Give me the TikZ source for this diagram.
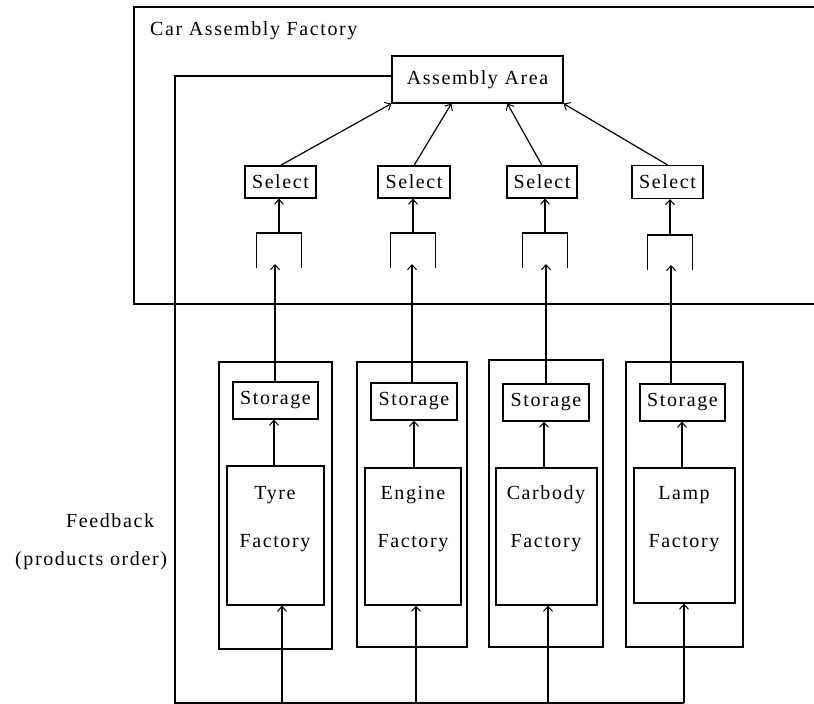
\documentclass[tikz,border=0pt]{standalone}
\usepackage{fontspec}
\setmainfont{Liberation Serif}[LetterSpace=8]
\usetikzlibrary{arrows.meta,calc}
\begin{document}
\begin{tikzpicture}[x=1pt,y=-1pt,
  every node/.style={font=\fontsize{20}{24}\selectfont},
  box/.style={draw,line width=1.2pt,inner sep=0pt,rectangle},
  ln/.style={line width=1.2pt},
  arr/.style={line width=1.2pt,-{Straight Barb[length=5pt,width=9pt,line width=1pt]}},
  txt/.style={inner sep=0pt,anchor=base}]
\useasboundingbox (0,0) rectangle (814,704);
% outer factory frame
\draw[ln] (814,7) -- (134,7) -- (134,304) -- (814,304);
\node[txt,anchor=base west] (title) at (150,35) {Car Assembly Factory};
% assembly area
\node[box,minimum width=171pt,minimum height=47pt] (aa) at (477.5,79.5) {Assembly Area};
% select boxes
\node[box,minimum width=71pt,minimum height=32pt] (sel1) at (280.5,182) {Select};
\node[box,minimum width=72pt,minimum height=32pt] (sel2) at (414,182) {Select};
\node[box,minimum width=70pt,minimum height=32pt] (sel3) at (542,182) {Select};
\node[box,minimum width=71pt,minimum height=33pt] (sel4) at (667.5,182) {Select};
% arrows select -> assembly area
\draw[arr] (sel1.north) -- (aa.south west);
\draw[arr] (sel2.north) -- ($(aa.south west)+(60,0)$);
\draw[arr] (sel3.north) -- ($(aa.south west)+(116,0)$);
\draw[arr] (sel4.north) -- (aa.south east);
% brackets
\coordinate (k1) at (279,233);
\coordinate (k2) at (413,233);
\coordinate (k3) at (545,233);
\coordinate (k4) at (670,235);
\foreach \k in {1,2,3,4}{
  \draw[ln] ($(k\k)+(-22.5,35)$) -- ($(k\k)+(-22.5,0)$) -- ($(k\k)+(22.5,0)$) -- ($(k\k)+(22.5,35)$);
  \draw[arr] (k\k) -- (k\k |- sel\k.south);
}
% column boxes
\node[box,minimum width=113pt,minimum height=287pt] (c1) at (275.5,505.5) {};
\node[box,minimum width=110pt,minimum height=285pt] (c2) at (412,504.5) {};
\node[box,minimum width=114pt,minimum height=287pt] (c3) at (546,503.5) {};
\node[box,minimum width=117pt,minimum height=285pt] (c4) at (684.5,504.5) {};
% storage
\node[box,minimum width=85pt,minimum height=37pt] (s1) at (275.5,400.5) {Storage};
\node[box,minimum width=86pt,minimum height=37pt] (s2) at (414,401.5) {Storage};
\node[box,minimum width=86pt,minimum height=37pt] (s3) at (546,402.5) {Storage};
\node[box,minimum width=85pt,minimum height=37pt] (s4) at (682.5,402.5) {Storage};
% factories
\node[box,minimum width=97pt,minimum height=139pt] (f1) at (275.5,535.5) {};
\node[box,minimum width=96pt,minimum height=137pt] (f2) at (413,536.5) {};
\node[box,minimum width=101pt,minimum height=137pt] (f3) at (546.5,536.5) {};
\node[box,minimum width=101pt,minimum height=135pt] (f4) at (684.5,535.5) {};
\node[txt] (f1a) at (275,499) {Tyre};
\node[txt] (f1b) at (275,547) {Factory};
\node[txt] (f2a) at (413,499) {Engine};
\node[txt] (f2b) at (413,547) {Factory};
\node[txt] (f3a) at (546,499) {Carbody};
\node[txt] (f3b) at (546,547) {Factory};
\node[txt] (f4a) at (684,499) {Lamp};
\node[txt] (f4b) at (684,547) {Factory};
% storage -> bracket, factory -> storage
\coordinate (in1) at (275,264);
\coordinate (in2) at (412,264);
\coordinate (in3) at (546,264);
\coordinate (in4) at (671,265);
\coordinate (u1) at (274,0);
\coordinate (u2) at (414,0);
\coordinate (u3) at (544,0);
\coordinate (u4) at (682,0);
\foreach \k in {1,2,3,4}{
  \draw[arr] (in\k |- s\k.north) -- (in\k);
  \draw[arr] (u\k |- f\k.north) -- (u\k |- s\k.south);
}
% feedback loop
\coordinate (fbtop) at (175,76);
\coordinate (fbbot) at (175,703);
\coordinate (b1) at (282,703);
\coordinate (b2) at (416,703);
\coordinate (b3) at (548,703);
\coordinate (b4) at (684,703);
\draw[ln] (aa.west |- fbtop) -- (fbtop) -- (fbbot) -- (b4);
\foreach \k in {1,2,3,4}{
  \draw[arr] (b\k) -- (b\k |- f\k.south);
}
\node[txt,anchor=base west] (fb1) at (66,527) {Feedback};
\node[txt,anchor=base west] (fb2) at (15,565) {(products order)};
\end{tikzpicture}
\end{document}
